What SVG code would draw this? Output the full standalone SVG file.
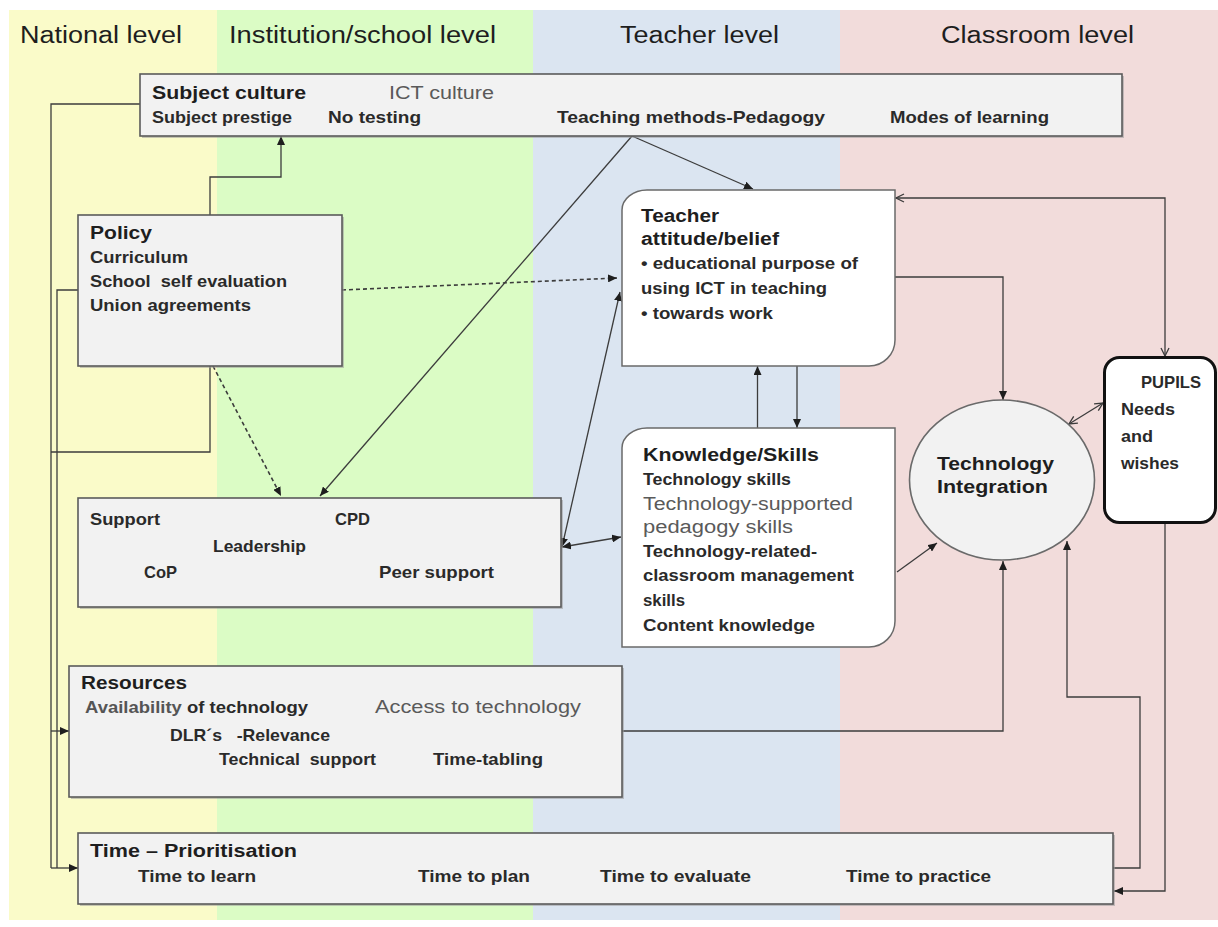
<svg xmlns="http://www.w3.org/2000/svg" width="1218" height="927" viewBox="0 0 1218 927">
  <defs>
    <style>
      .hdr { font-family: "Liberation Sans", Arial, sans-serif; font-size: 23px; fill: #1e1e1e; }
      .ttl { font-family: "Liberation Sans", Arial, sans-serif; font-size: 18px; font-weight: bold; fill: #1e1e1e; }
      .bd  { font-family: "Liberation Sans", Arial, sans-serif; font-size: 17px; font-weight: bold; fill: #2a2a2a; }
      .gr  { font-family: "Liberation Sans", Arial, sans-serif; font-size: 18px; fill: #5a5a5a; }
      .box { fill: #f2f2f2; stroke: #5a5a5a; stroke-width: 1.6; }
      .shadow { fill: #9a9a9a; opacity: 0.55; }
      .wbox { fill: #ffffff; stroke: #6a6a6a; stroke-width: 1.5; }
      .ln { fill: none; stroke: #3c3c3c; stroke-width: 1.3; }
      .dash { fill: none; stroke: #3c3c3c; stroke-width: 1.6; stroke-dasharray: 4 3; }
    </style>
    <marker id="arr" viewBox="0 0 9 8" refX="9" refY="4" markerWidth="9" markerHeight="8" markerUnits="userSpaceOnUse" orient="auto-start-reverse">
      <path d="M0,0 L9,4 L0,8 z" fill="#1e1e1e"/>
    </marker>
    <marker id="open" viewBox="0 0 10 10" refX="9" refY="5" markerWidth="10" markerHeight="10" markerUnits="userSpaceOnUse" orient="auto-start-reverse">
      <path d="M1,1 L9,5 L1,9" fill="none" stroke="#3c3c3c" stroke-width="1.3"/>
    </marker>
  </defs>

  <!-- level bands -->
  <g id="bands">
    <rect x="9" y="10" width="209" height="910" fill="#fafbc9"/>
    <rect x="217" y="10" width="317" height="910" fill="#dbfcc5"/>
    <rect x="533" y="10" width="308" height="910" fill="#dbe5f1"/>
    <rect x="840" y="10" width="378" height="910" fill="#f2dcdb"/>
    <text class="hdr" x="20" y="43" textLength="162" lengthAdjust="spacingAndGlyphs">National level</text>
    <text class="hdr" x="229" y="43" textLength="267" lengthAdjust="spacingAndGlyphs">Institution/school level</text>
    <text class="hdr" x="620" y="43" textLength="159" lengthAdjust="spacingAndGlyphs">Teacher level</text>
    <text class="hdr" x="941" y="43" textLength="193" lengthAdjust="spacingAndGlyphs">Classroom level</text>
  </g>

  <!-- connectors -->
  <g id="connectors">
    <!-- left trunk lines -->
    <path class="ln" d="M140,104 H51 V868"/>
    <path class="ln" d="M78,290 H57 V868"/>
    <path class="ln" d="M210,366 V452 H51"/>
    <path class="ln" d="M51,731 H69" marker-end="url(#arr)"/>
    <path class="ln" d="M51,868 H78" marker-end="url(#arr)"/>
    <!-- policy to subject culture -->
    <path class="ln" d="M210,215 V177 H281 V136" marker-end="url(#arr)"/>
    <!-- policy dashed links -->
    <path class="dash" d="M342,290 L617,278" marker-end="url(#arr)"/>
    <path class="dash" d="M213,366 L281,496" marker-end="url(#arr)"/>
    <!-- teaching methods links -->
    <path class="ln" d="M632,136 L320,496" marker-end="url(#arr)"/>
    <path class="ln" d="M632,136 L753,189" marker-end="url(#arr)"/>
    <!-- support links -->
    <path class="ln" d="M562,547 L620,292" marker-start="url(#arr)" marker-end="url(#arr)"/>
    <path class="ln" d="M562,547 L621,537" marker-start="url(#arr)" marker-end="url(#arr)"/>
    <!-- teacher / knowledge -->
    <path class="ln" d="M757.5,428 V366" marker-end="url(#arr)"/>
    <path class="ln" d="M797,366 V428" marker-end="url(#arr)"/>
    <!-- into technology integration -->
    <path class="ln" d="M895,277 H1003 V400" marker-end="url(#arr)"/>
    <path class="ln" d="M897,572 L937,543" marker-end="url(#arr)"/>
    <path class="ln" d="M622,731 H1003 V561" marker-end="url(#arr)"/>
    <path class="ln" d="M1113,868 H1140 V697 H1067 V541" marker-end="url(#arr)"/>
    <!-- pupils links -->
    <path class="ln" d="M896,198 H1165 V356" marker-start="url(#open)" marker-end="url(#open)"/>
    <path class="ln" d="M1069,424 L1103,403" marker-start="url(#open)" marker-end="url(#open)"/>
    <path class="ln" d="M1165,523 V891 H1114" marker-end="url(#arr)"/>
  </g>

  <g id="subject-culture">
    <rect class="shadow" x="142" y="76" width="982" height="62"/>
    <rect class="box" x="140" y="74" width="982" height="62"/>
    <text class="ttl" x="152" y="99" textLength="154" lengthAdjust="spacingAndGlyphs">Subject culture</text>
    <text class="gr" x="389" y="99" textLength="105" lengthAdjust="spacingAndGlyphs">ICT culture</text>
    <text class="bd" x="152" y="123" textLength="140" lengthAdjust="spacingAndGlyphs">Subject prestige</text>
    <text class="bd" x="328" y="123" textLength="93" lengthAdjust="spacingAndGlyphs">No testing</text>
    <text class="bd" x="557" y="123" textLength="268" lengthAdjust="spacingAndGlyphs">Teaching methods-Pedagogy</text>
    <text class="bd" x="890" y="123" textLength="159" lengthAdjust="spacingAndGlyphs">Modes of learning</text>
  </g>

  <g id="policy">
    <rect class="shadow" x="80" y="217" width="264" height="151"/>
    <rect class="box" x="78" y="215" width="264" height="151"/>
    <text class="ttl" x="90" y="239" textLength="62" lengthAdjust="spacingAndGlyphs">Policy</text>
    <text class="bd" x="90" y="263" textLength="98" lengthAdjust="spacingAndGlyphs">Curriculum</text>
    <text class="bd" x="90" y="287" textLength="197" lengthAdjust="spacingAndGlyphs" xml:space="preserve">School  self evaluation</text>
    <text class="bd" x="90" y="311" textLength="161" lengthAdjust="spacingAndGlyphs">Union agreements</text>
  </g>

  <g id="support">
    <rect class="shadow" x="80" y="500" width="483" height="109"/>
    <rect class="box" x="78" y="498" width="483" height="109"/>
    <text class="bd" x="90" y="525" textLength="70" lengthAdjust="spacingAndGlyphs">Support</text>
    <text class="bd" x="335" y="525" textLength="35" lengthAdjust="spacingAndGlyphs">CPD</text>
    <text class="bd" x="213" y="552" textLength="93" lengthAdjust="spacingAndGlyphs">Leadership</text>
    <text class="bd" x="144" y="578" textLength="33" lengthAdjust="spacingAndGlyphs">CoP</text>
    <text class="bd" x="379" y="578" textLength="115" lengthAdjust="spacingAndGlyphs">Peer support</text>
  </g>

  <g id="resources">
    <rect class="shadow" x="71" y="668" width="553" height="131"/>
    <rect class="box" x="69" y="666" width="553" height="131"/>
    <text class="ttl" x="81" y="689" textLength="106" lengthAdjust="spacingAndGlyphs">Resources</text>
    <text class="bd" x="85" y="713" textLength="223" lengthAdjust="spacingAndGlyphs"><tspan fill="#555">Availability</tspan> of technology</text>
    <text class="gr" x="375" y="713" textLength="206" lengthAdjust="spacingAndGlyphs">Access to technology</text>
    <text class="bd" x="170" y="741" textLength="160" lengthAdjust="spacingAndGlyphs" xml:space="preserve">DLR´s   -Relevance</text>
    <text class="bd" x="219" y="765" textLength="157" lengthAdjust="spacingAndGlyphs" xml:space="preserve">Technical  support</text>
    <text class="bd" x="433" y="765" textLength="110" lengthAdjust="spacingAndGlyphs">Time-tabling</text>
  </g>

  <g id="time">
    <rect class="shadow" x="80" y="835" width="1035" height="71"/>
    <rect class="box" x="78" y="833" width="1035" height="71"/>
    <text class="ttl" x="90" y="857" textLength="207" lengthAdjust="spacingAndGlyphs">Time – Prioritisation</text>
    <text class="bd" x="138" y="882" textLength="118" lengthAdjust="spacingAndGlyphs">Time to learn</text>
    <text class="bd" x="418" y="882" textLength="112" lengthAdjust="spacingAndGlyphs">Time to plan</text>
    <text class="bd" x="600" y="882" textLength="151" lengthAdjust="spacingAndGlyphs">Time to evaluate</text>
    <text class="bd" x="846" y="882" textLength="145" lengthAdjust="spacingAndGlyphs">Time to practice</text>
  </g>

  <g id="teacher">
    <path class="wbox" d="M622,366 V210 A25,20 0 0 1 647,190 H895 V340 A26,26 0 0 1 869,366 Z"/>
    <text class="ttl" x="641" y="222" textLength="78" lengthAdjust="spacingAndGlyphs">Teacher</text>
    <text class="ttl" x="641" y="245" textLength="138" lengthAdjust="spacingAndGlyphs">attitude/belief</text>
    <text class="bd" x="641" y="269" textLength="217" lengthAdjust="spacingAndGlyphs">• educational purpose of</text>
    <text class="bd" x="641" y="294" textLength="186" lengthAdjust="spacingAndGlyphs">using ICT in teaching</text>
    <text class="bd" x="641" y="319" textLength="132" lengthAdjust="spacingAndGlyphs">• towards work</text>
  </g>

  <g id="knowledge">
    <path class="wbox" d="M622,647 V448 A25,20 0 0 1 647,428 H895 V621 A26,26 0 0 1 869,647 Z"/>
    <text class="ttl" x="643" y="461" textLength="176" lengthAdjust="spacingAndGlyphs">Knowledge/Skills</text>
    <text class="bd" x="643" y="485" textLength="148" lengthAdjust="spacingAndGlyphs">Technology skills</text>
    <text class="gr" x="643" y="510" textLength="210" lengthAdjust="spacingAndGlyphs">Technology-supported</text>
    <text class="gr" x="643" y="533" textLength="150" lengthAdjust="spacingAndGlyphs">pedagogy skills</text>
    <text class="bd" x="643" y="557" textLength="174" lengthAdjust="spacingAndGlyphs">Technology-related-</text>
    <text class="bd" x="643" y="581" textLength="211" lengthAdjust="spacingAndGlyphs">classroom management</text>
    <text class="bd" x="643" y="606" textLength="42" lengthAdjust="spacingAndGlyphs">skills</text>
    <text class="bd" x="643" y="631" textLength="172" lengthAdjust="spacingAndGlyphs">Content knowledge</text>
  </g>

  <g id="technology-integration">
    <ellipse cx="1002" cy="480" rx="92.5" ry="80" fill="#f2f2f2" stroke="#6a6a6a" stroke-width="1.6"/>
    <text class="ttl" x="937" y="470" textLength="117" lengthAdjust="spacingAndGlyphs">Technology</text>
    <text class="ttl" x="937" y="493" textLength="111" lengthAdjust="spacingAndGlyphs">Integration</text>
  </g>

  <g id="pupils">
    <rect x="1104.5" y="357.5" width="111" height="165" rx="15" ry="15" fill="#ffffff" stroke="#111111" stroke-width="3"/>
    <text class="bd" x="1141" y="388" textLength="60" lengthAdjust="spacingAndGlyphs">PUPILS</text>
    <text class="bd" x="1121" y="415" textLength="54" lengthAdjust="spacingAndGlyphs">Needs</text>
    <text class="bd" x="1121" y="442" textLength="32" lengthAdjust="spacingAndGlyphs">and</text>
    <text class="bd" x="1121" y="469" textLength="58" lengthAdjust="spacingAndGlyphs">wishes</text>
  </g>
</svg>
